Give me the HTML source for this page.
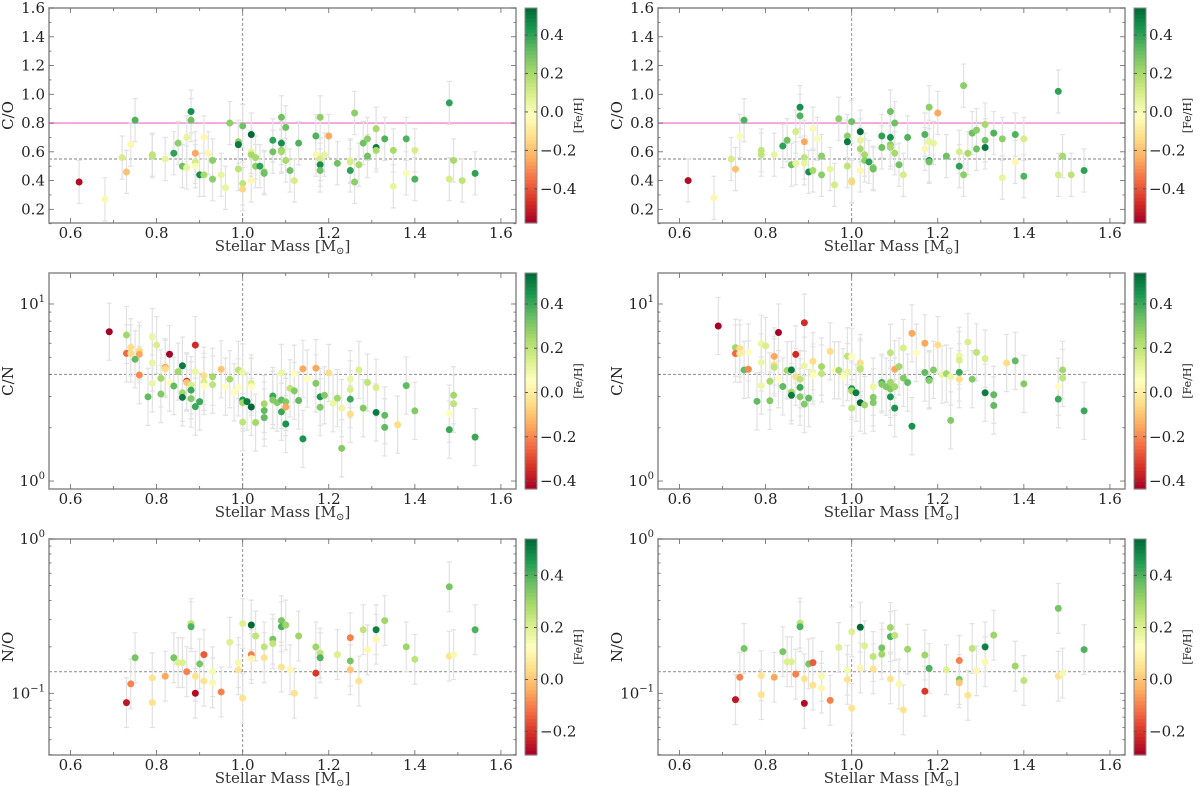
<!DOCTYPE html>
<html><head><meta charset="utf-8">
<style>
html,body{margin:0;padding:0;background:#fff;}
svg{display:block;font-family:"DejaVu Serif","Liberation Serif",serif;}
</style></head>
<body>
<svg id="fig" width="1200" height="787" viewBox="0 0 1200 787" xmlns="http://www.w3.org/2000/svg"></svg>
<script>
// ---------- Panel A: C/O (left) ----------
const massA=[0.62,0.68,0.72,0.73,0.74,0.75,0.79,0.79,0.82,0.84,0.85,0.86,0.87,0.87,0.88,0.88,0.89,0.89,0.89,0.90,0.91,0.91,0.92,0.93,0.93,0.95,0.96,0.97,0.99,0.99,0.99,1.0,1.0,1.0,1.02,1.02,1.02,1.02,1.03,1.03,1.04,1.05,1.05,1.07,1.07,1.09,1.09,1.09,1.09,1.10,1.10,1.11,1.12,1.13,1.17,1.17,1.18,1.18,1.18,1.18,1.19,1.20,1.22,1.25,1.25,1.25,1.26,1.26,1.27,1.28,1.29,1.29,1.31,1.31,1.31,1.33,1.35,1.35,1.38,1.38,1.40,1.40,1.48,1.48,1.49,1.51,1.54];
const valA=[0.39,0.27,0.56,0.46,0.65,0.82,0.58,0.57,0.55,0.59,0.66,0.50,0.70,0.49,0.88,0.82,0.59,0.53,0.50,0.44,0.70,0.44,0.59,0.54,0.41,0.44,0.35,0.80,0.67,0.65,0.48,0.78,0.38,0.34,0.72,0.60,0.58,0.40,0.56,0.50,0.50,0.46,0.45,0.68,0.60,0.84,0.66,0.61,0.60,0.77,0.54,0.47,0.40,0.66,0.71,0.58,0.84,0.55,0.51,0.47,0.58,0.71,0.52,0.54,0.53,0.47,0.87,0.39,0.51,0.66,0.69,0.57,0.76,0.63,0.61,0.69,0.61,0.36,0.69,0.45,0.61,0.41,0.94,0.41,0.54,0.40,0.45];
const fehA=[-0.55,-0.05,0.1,-0.2,-0.05,0.35,0.15,0.15,0.05,0.4,0.25,0.3,0.05,0.05,0.45,0.3,-0.25,0.1,0.0,0.45,-0.05,0.2,-0.05,0.25,0.25,0.05,0.05,0.25,0.25,0.5,0.15,0.3,0.15,-0.15,0.55,0.05,0.2,-0.05,0.2,0.25,0.4,0.25,0.3,0.4,0.3,0.3,0.45,0.25,0.2,0.3,0.2,0.3,0.1,0.35,0.35,-0.05,0.25,0.1,0.45,0.3,0.05,-0.25,0.3,0.05,0.1,0.4,0.25,0.25,0.2,0.3,0.25,0.3,0.2,0.5,0.2,0.35,0.2,0.05,0.35,0.0,0.1,0.35,0.4,0.1,0.2,0.15,0.4];
// ---------- Panel B: C/O (right) ----------
const massB=[0.62,0.68,0.72,0.73,0.74,0.75,0.79,0.79,0.82,0.84,0.85,0.86,0.87,0.87,0.88,0.88,0.89,0.89,0.89,0.90,0.91,0.91,0.92,0.93,0.93,0.95,0.96,0.97,0.99,0.99,0.99,1.0,1.0,1.0,1.02,1.02,1.02,1.02,1.03,1.03,1.04,1.05,1.05,1.07,1.07,1.09,1.09,1.09,1.09,1.10,1.10,1.11,1.12,1.13,1.17,1.17,1.18,1.18,1.18,1.18,1.19,1.20,1.22,1.25,1.25,1.26,1.26,1.27,1.28,1.29,1.29,1.31,1.31,1.31,1.33,1.35,1.35,1.38,1.38,1.40,1.40,1.48,1.48,1.49,1.51,1.54];
const valB=[0.40,0.28,0.55,0.48,0.71,0.82,0.61,0.58,0.58,0.64,0.68,0.51,0.74,0.52,0.91,0.85,0.67,0.56,0.52,0.46,0.76,0.47,0.69,0.57,0.44,0.48,0.37,0.83,0.71,0.67,0.50,0.81,0.40,0.39,0.74,0.68,0.62,0.47,0.58,0.54,0.53,0.49,0.48,0.71,0.63,0.88,0.70,0.65,0.63,0.80,0.59,0.51,0.44,0.70,0.72,0.62,0.91,0.67,0.54,0.53,0.66,0.87,0.57,0.60,0.50,1.06,0.44,0.59,0.73,0.75,0.62,0.79,0.63,0.68,0.73,0.69,0.42,0.72,0.53,0.69,0.43,1.02,0.44,0.57,0.44,0.47];
const fehB=[-0.55,-0.05,0.1,-0.2,0.0,0.35,0.15,0.15,0.05,0.4,0.3,0.3,0.1,0.05,0.45,0.35,-0.25,0.15,0.05,0.45,0.0,0.2,0.0,0.25,0.25,0.05,0.1,0.25,0.25,0.5,0.15,0.3,0.1,-0.15,0.55,0.05,0.2,-0.05,0.2,0.25,0.4,0.25,0.3,0.4,0.3,0.3,0.45,0.25,0.2,0.3,0.2,0.3,0.1,0.35,0.35,-0.05,0.25,0.05,0.45,0.3,0.05,-0.25,0.3,0.1,0.4,0.25,0.25,0.2,0.3,0.25,0.3,0.2,0.5,0.3,0.35,0.25,0.05,0.35,-0.05,0.1,0.35,0.4,0.1,0.2,0.15,0.4];
// ---------- Panel C: C/N (left) ----------
const massC=[0.69,0.73,0.73,0.74,0.74,0.75,0.76,0.76,0.76,0.78,0.79,0.79,0.79,0.80,0.81,0.81,0.82,0.82,0.83,0.83,0.84,0.85,0.86,0.86,0.86,0.87,0.87,0.88,0.88,0.88,0.89,0.89,0.89,0.90,0.91,0.91,0.91,0.93,0.93,0.95,0.96,0.97,0.98,0.99,0.99,1.0,1.0,1.0,1.0,1.01,1.02,1.02,1.02,1.03,1.05,1.05,1.05,1.07,1.07,1.08,1.09,1.09,1.09,1.10,1.10,1.10,1.11,1.12,1.12,1.13,1.14,1.14,1.15,1.17,1.17,1.18,1.18,1.19,1.20,1.21,1.22,1.23,1.23,1.25,1.25,1.25,1.25,1.27,1.28,1.29,1.31,1.31,1.33,1.33,1.36,1.38,1.40,1.48,1.48,1.49,1.49,1.54];
const valC=[6.97,6.68,5.26,5.69,5.26,4.87,5.45,5.2,3.97,2.99,6.5,4.66,3.56,5.86,3.8,3.1,4.39,4.3,5.2,3.6,3.44,4.15,4.48,3.15,2.97,3.66,3.6,3.48,3.26,2.92,5.86,4.15,2.63,2.81,3.93,3.63,3.44,3.88,3.5,4.28,3.41,3.76,3.17,4.24,3.38,4.1,2.87,2.77,2.15,2.81,3.56,3.41,2.62,2.14,2.73,2.5,2.28,3.02,2.87,2.77,2.87,2.46,4.08,2.8,2.62,2.1,3.34,4.04,3.23,2.85,4.3,1.73,3.79,4.34,3.56,2.99,2.61,3.05,4.08,2.75,2.94,2.58,1.53,3.76,3.29,2.9,2.39,4.24,2.58,3.6,3.37,2.44,2.35,2.01,2.08,3.46,2.49,2.4,1.95,3.05,2.73,1.77];
const fehC=[-0.5,0.25,-0.25,-0.05,-0.05,0.35,-0.05,-0.15,-0.2,0.35,0.1,0.1,0.1,0.15,0.25,0.3,-0.15,-0.05,-0.5,0.05,0.35,0.25,0.5,0.25,0.5,-0.35,-0.1,0.15,0.4,0.3,-0.35,0.1,0.4,0.4,-0.05,0.15,0.05,0.25,0.2,-0.1,0.05,0.25,0.05,0.2,0.05,0.1,0.45,0.25,0.2,0.5,0.15,0.05,0.55,0.25,0.25,0.35,0.35,0.4,0.3,0.3,0.35,0.4,0.1,0.3,-0.15,0.45,0.2,0.05,0.3,0.35,-0.15,0.45,0.05,-0.15,0.3,0.45,0.3,0.3,-0.05,0.1,0.25,0.1,0.3,0.1,0.15,0.4,-0.05,0.15,0.3,0.2,0.15,0.5,0.35,0.35,-0.05,0.35,0.3,0.05,0.4,0.25,0.2,0.4];
// ---------- Panel D: C/N (right) ----------
const massD=[0.69,0.73,0.73,0.74,0.74,0.75,0.76,0.76,0.78,0.79,0.79,0.79,0.80,0.81,0.81,0.82,0.82,0.82,0.83,0.83,0.84,0.85,0.86,0.86,0.86,0.87,0.87,0.88,0.88,0.88,0.89,0.89,0.89,0.90,0.91,0.91,0.91,0.93,0.93,0.95,0.96,0.97,0.98,0.99,0.99,1.0,1.0,1.0,1.0,1.01,1.02,1.02,1.02,1.02,1.03,1.05,1.05,1.05,1.07,1.07,1.08,1.09,1.09,1.09,1.09,1.10,1.10,1.10,1.11,1.12,1.12,1.13,1.14,1.14,1.15,1.17,1.17,1.18,1.18,1.19,1.20,1.21,1.22,1.23,1.23,1.25,1.25,1.25,1.25,1.27,1.28,1.29,1.31,1.31,1.33,1.33,1.36,1.38,1.40,1.48,1.48,1.49,1.49,1.54];
const valD=[7.51,5.67,5.25,5.6,5.25,4.24,5.33,4.28,2.82,5.96,4.68,3.46,5.8,3.66,2.84,5.06,4.53,4.39,6.9,3.76,3.42,4.22,4.24,3.18,3.05,5.19,3.88,3.76,3.38,2.99,7.84,4.48,2.72,2.94,4.75,4.1,3.95,4.43,4.05,5.4,4.22,4.22,3.86,5.07,4.12,5.03,3.32,3.23,2.58,3.15,4.64,4.39,4.28,2.77,2.69,3.41,2.97,2.77,3.6,3.52,3.41,5.3,3.61,3.31,2.99,4.28,3.41,2.58,4.43,5.64,3.82,3.6,6.82,2.04,5.3,6.0,4.1,3.76,3.7,4.24,5.86,3.99,4.04,3.88,2.2,5.1,4.81,4.11,3.76,6.1,3.76,5.33,4.91,3.15,3.07,2.67,4.64,4.77,3.54,3.41,2.9,4.24,3.82,2.49];
const fehD=[-0.5,0.25,-0.25,-0.05,0.0,0.35,0.05,-0.2,0.35,0.1,0.1,0.1,0.15,0.25,0.3,-0.15,-0.05,0.2,-0.5,0.05,0.35,0.25,0.5,0.25,0.5,-0.35,-0.05,0.2,0.4,0.3,-0.35,0.1,0.3,0.35,-0.05,0.1,0.05,0.25,0.2,-0.05,0.05,0.25,0.05,0.2,0.1,0.05,0.45,0.25,0.2,0.5,-0.05,0.15,0.2,0.55,0.25,0.1,0.3,0.3,0.4,0.3,0.3,0.2,0.25,0.3,0.45,-0.15,0.25,0.45,0.25,0.15,0.3,0.35,-0.15,0.45,0.05,-0.15,0.35,0.5,0.3,0.3,-0.05,0.1,0.25,0.1,0.3,0.1,0.15,0.4,-0.05,0.15,0.3,0.2,0.15,0.5,0.35,0.35,-0.05,0.35,0.3,0.05,0.4,0.25,0.2,0.4];
// ---------- Panel E: N/O (left) ----------
const massE=[0.73,0.74,0.75,0.79,0.79,0.82,0.84,0.85,0.86,0.87,0.88,0.88,0.89,0.89,0.90,0.91,0.91,0.93,0.93,0.95,0.97,0.99,0.99,1.00,1.00,1.02,1.02,1.02,1.03,1.05,1.05,1.07,1.07,1.09,1.09,1.09,1.10,1.11,1.12,1.13,1.17,1.17,1.18,1.18,1.22,1.25,1.25,1.25,1.27,1.28,1.29,1.31,1.31,1.33,1.38,1.40,1.48,1.48,1.49,1.54];
const valE=[0.087,0.115,0.17,0.126,0.087,0.129,0.17,0.158,0.158,0.138,0.283,0.27,0.129,0.1,0.155,0.178,0.12,0.138,0.117,0.102,0.214,0.158,0.142,0.283,0.093,0.277,0.178,0.168,0.235,0.2,0.17,0.224,0.21,0.296,0.27,0.148,0.277,0.142,0.1,0.235,0.2,0.135,0.182,0.17,0.178,0.229,0.162,0.142,0.12,0.258,0.191,0.258,0.224,0.296,0.2,0.166,0.49,0.174,0.178,0.258];
const fehE=[-0.25,-0.1,0.35,0.05,0.05,-0.05,0.35,0.2,0.2,-0.1,0.25,0.4,0.05,-0.27,0.35,-0.15,0.05,0.15,0.1,-0.1,0.2,0.15,0.05,0.2,0.05,0.55,-0.1,0.1,0.25,0.25,0.05,0.35,0.25,0.35,0.4,0.05,0.3,0.1,0.05,0.3,0.3,-0.2,0.25,0.4,0.2,-0.1,0.35,0.0,0.05,0.25,0.1,0.5,0.1,0.3,0.3,0.25,0.35,0.05,0.15,0.4];
// ---------- Panel F: N/O (right) ----------
const massF=[0.73,0.74,0.75,0.79,0.79,0.82,0.84,0.85,0.86,0.87,0.88,0.88,0.89,0.89,0.90,0.91,0.91,0.93,0.93,0.95,0.97,0.99,0.99,1.00,1.00,1.02,1.02,1.03,1.05,1.05,1.07,1.07,1.09,1.09,1.09,1.10,1.11,1.12,1.13,1.17,1.17,1.18,1.22,1.25,1.25,1.25,1.27,1.28,1.29,1.31,1.31,1.33,1.38,1.40,1.48,1.48,1.49,1.54];
const valF=[0.091,0.127,0.195,0.13,0.098,0.127,0.186,0.16,0.16,0.133,0.285,0.27,0.124,0.086,0.155,0.158,0.113,0.129,0.108,0.09,0.198,0.141,0.123,0.25,0.08,0.268,0.146,0.203,0.173,0.144,0.197,0.179,0.267,0.233,0.124,0.237,0.115,0.078,0.193,0.177,0.103,0.145,0.142,0.163,0.123,0.117,0.097,0.195,0.14,0.2,0.16,0.238,0.15,0.121,0.355,0.129,0.135,0.192];
const fehF=[-0.25,-0.1,0.35,0.05,0.05,-0.05,0.35,0.2,0.2,-0.1,0.25,0.4,0.05,-0.27,0.35,-0.15,0.05,0.15,0.1,-0.1,0.2,0.15,0.05,0.2,0.05,0.55,0.1,0.2,0.25,0.05,0.35,0.3,0.3,0.4,0.05,0.25,0.1,0.05,0.3,0.3,-0.2,0.4,0.2,-0.1,0.35,0.0,0.05,0.25,0.1,0.5,0.1,0.3,0.3,0.25,0.35,0.05,0.15,0.4];
// error sizes (absolute for linear, multiplicative factor for log)
const errCO=0.15, errCN=1.45, errNO=1.45;
const xTicks=[0.6,0.8,1.0,1.2,1.4,1.6];
const coTicks=[0.2,0.4,0.6,0.8,1.0,1.2,1.4,1.6];
const cbTicksTop=[0.4,0.2,0.0,-0.2,-0.4];
const cbTicksBot=[0.4,0.2,0.0,-0.2];

const NS="http://www.w3.org/2000/svg";
const svg=document.getElementById('fig');
function mk(tag,attrs,parent){const e=document.createElementNS(NS,tag);for(const k in attrs)e.setAttribute(k,attrs[k]);(parent||svg).appendChild(e);return e;}
const stops=['#a50026','#d73027','#f46d43','#fdae61','#fee08b','#ffffbf','#d9ef8b','#a6d96a','#66bd63','#1a9850','#006837'];
function hex(h){return[parseInt(h.substr(1,2),16),parseInt(h.substr(3,2),16),parseInt(h.substr(5,2),16)];}
function cmap(t){t=Math.max(0,Math.min(1,t));const p=t*10,i=Math.min(9,Math.floor(p)),f=p-i;const a=hex(stops[i]),b=hex(stops[i+1]);return 'rgb('+a.map((v,k)=>Math.round(v+(b[k]-v)*f)).join(',')+')';}
const ROWS=[{top:8,bot:223},{top:273,bot:489},{top:539,bot:755}];
const COLS=[{l:49,r:516,cb:525},{l:658,r:1125,cb:1134}];
const XMIN=0.55,XMAX=1.635;

function panel(row,col,cfg,mass,vals,feh){
  const R=ROWS[row],C=COLS[col];
  const g=mk('g',{});
  
  
  const xs=v=>C.l+(v-XMIN)/(XMAX-XMIN)*(C.r-C.l);
  const ys=cfg.log?(v=>R.bot-(Math.log10(v)-cfg.ymin)/(cfg.ymax-cfg.ymin)*(R.bot-R.top)):(v=>R.bot-(v-cfg.ymin)/(cfg.ymax-cfg.ymin)*(R.bot-R.top));
  const vl=mk('line',{x1:xs(1.0),x2:xs(1.0),y1:R.top,y2:R.bot,stroke:'#888','stroke-width':0.9,'stroke-dasharray':'3,2'},g);
  
  const hl=mk('line',{x1:C.l,x2:C.r,y1:ys(cfg.ref),y2:ys(cfg.ref),stroke:'#999','stroke-width':1.2,'stroke-dasharray':'3,2'},g);
  
  if(cfg.pink!==undefined){const pl=mk('line',{x1:C.l,x2:C.r,y1:ys(cfg.pink),y2:ys(cfg.pink),stroke:'#f4a6dc','stroke-width':1.8},g);}
  for(let i=0;i<mass.length;i++){
    const x=xs(mass[i]);
    const lo=cfg.log?vals[i]/cfg.err:vals[i]-cfg.err, hi=cfg.log?vals[i]*cfg.err:vals[i]+cfg.err;
    const y1=ys(lo),y2=ys(hi);
    const eb=mk('path',{d:`M${x},${y1}V${y2}M${x-2.5},${y1}h5M${x-2.5},${y2}h5`,stroke:'#e2e2e2','stroke-width':1.2,fill:'none'},g);
    
    
  }
  for(let i=0;i<mass.length;i++){
    const c=mk('circle',{cx:xs(mass[i]),cy:ys(vals[i]),r:3.5,fill:cmap((feh[i]-cfg.cmin)/(cfg.cmax-cfg.cmin))},g);
    
    
  }
  const fr=mk('rect',{x:C.l,y:R.top,width:C.r-C.l,height:R.bot-R.top,fill:'none',stroke:'#8a8a8a','stroke-width':1.5},g);
  
  const tk=mk('g',{stroke:'#666','stroke-width':0.8},g);
  for(let k=6;k<=16;k++){const v=k/10;const x=xs(v);const L=(k%2===0)?5:3;
    mk('line',{x1:x,x2:x,y1:R.bot,y2:R.bot-L},tk);mk('line',{x1:x,x2:x,y1:R.top,y2:R.top+L},tk);}
  xTicks.forEach(v=>{const t=mk('text',{x:xs(v),y:R.bot+15,'text-anchor':'middle','font-size':15,fill:'#222'},g);t.textContent=v.toFixed(1);
    });
  const xl=mk('text',{x:(C.l+C.r)/2,y:R.bot+28,'text-anchor':'middle','font-size':15,fill:'#333'},g);
  xl.innerHTML='Stellar Mass [M<tspan font-size="10" dy="3">⊙</tspan><tspan dy="-3">]</tspan>';
  
  if(cfg.log){
    for(let d=Math.floor(cfg.ymin);d<=Math.ceil(cfg.ymax);d++){
      for(let m=1;m<10;m++){const v=m*Math.pow(10,d);const lv=Math.log10(v);if(lv<cfg.ymin||lv>cfg.ymax)continue;
        const y=ys(v),L=m===1?5:2.5;mk('line',{x1:C.l,x2:C.l+L,y1:y,y2:y},tk);mk('line',{x1:C.r,x2:C.r-L,y1:y,y2:y},tk);
        if(m===1){const t=mk('text',{x:C.l-4,y:y+5,'text-anchor':'end','font-size':15,fill:'#222'},g);
          t.innerHTML='10<tspan font-size="10" dy="-7">'+(d<0?'−'+(-d):d)+'</tspan>';}}
    }
  } else {
    for(let k=1;k<=16;k++){const v=k/10;const y=ys(v);const L=(k%2===0)?5:2.5;
      mk('line',{x1:C.l,x2:C.l+L,y1:y,y2:y},tk);mk('line',{x1:C.r,x2:C.r-L,y1:y,y2:y},tk);}
    coTicks.forEach(v=>{const t=mk('text',{x:C.l-4,y:ys(v)+5,'text-anchor':'end','font-size':15,fill:'#222'},g);t.textContent=v.toFixed(1);
      });
  }
  const yx=C.l-36,ym=(R.top+R.bot)/2;
  const yl=mk('text',{x:yx,y:ym,'text-anchor':'middle','font-size':15,fill:'#222',transform:`rotate(-90 ${yx} ${ym})`},g);
  yl.textContent=cfg.ylabel;
  const cb=mk('g',{},g);
  const H=R.bot-R.top,N=60;
  for(let k=0;k<N;k++){mk('rect',{x:C.cb,y:R.top+k*H/N,width:12,height:H/N+0.6,fill:cmap(1-(k+0.5)/N)},cb);}
  mk('rect',{x:C.cb,y:R.top,width:12,height:H,fill:'none',stroke:'#888','stroke-width':1},cb);
  const cys=v=>R.bot-(v-cfg.cmin)/(cfg.cmax-cfg.cmin)*H;
  cfg.cbt.forEach(v=>{const y=cys(v);mk('line',{x1:C.cb+12,x2:C.cb+9,y1:y,y2:y,stroke:'#555'},cb);mk('line',{x1:C.cb,x2:C.cb+3,y1:y,y2:y,stroke:'#555'},cb);
    const t=mk('text',{x:C.cb+15,y:y+5,'font-size':15,fill:'#222'},cb);t.textContent=(v<0?'−':'')+Math.abs(v).toFixed(1);});
  const cl=C.cb+57,cm=(R.top+R.bot)/2;
  const ct=mk('text',{x:cl,y:cm,'text-anchor':'middle','font-size':11,fill:'#222',transform:`rotate(-90 ${cl} ${cm})`},cb);
  ct.textContent='[Fe/H]';
}
const co={log:false,ymin:0.105,ymax:1.6,ref:0.55,pink:0.8,err:errCO,cmin:-0.577,cmax:0.54,cbt:cbTicksTop,ylabel:'C/O'};
const cn={log:true,ymin:-0.045,ymax:1.175,ref:4.0,err:errCN,cmin:-0.436,cmax:0.54,cbt:cbTicksTop,ylabel:'C/N'};
const no={log:true,ymin:-1.4,ymax:0,ref:0.138,err:errNO,cmin:-0.29,cmax:0.54,cbt:cbTicksBot,ylabel:'N/O'};
panel(0,0,Object.assign({name:'co-panel-left'},co),massA,valA,fehA);
panel(0,1,Object.assign({name:'co-panel-right'},co),massB,valB,fehB);
panel(1,0,Object.assign({name:'cn-panel-left'},cn),massC,valC,fehC);
panel(1,1,Object.assign({name:'cn-panel-right'},cn),massD,valD,fehD);
panel(2,0,Object.assign({name:'no-panel-left'},no),massE,valE,fehE);
panel(2,1,Object.assign({name:'no-panel-right'},no),massF,valF,fehF);
</script>
</body></html>
